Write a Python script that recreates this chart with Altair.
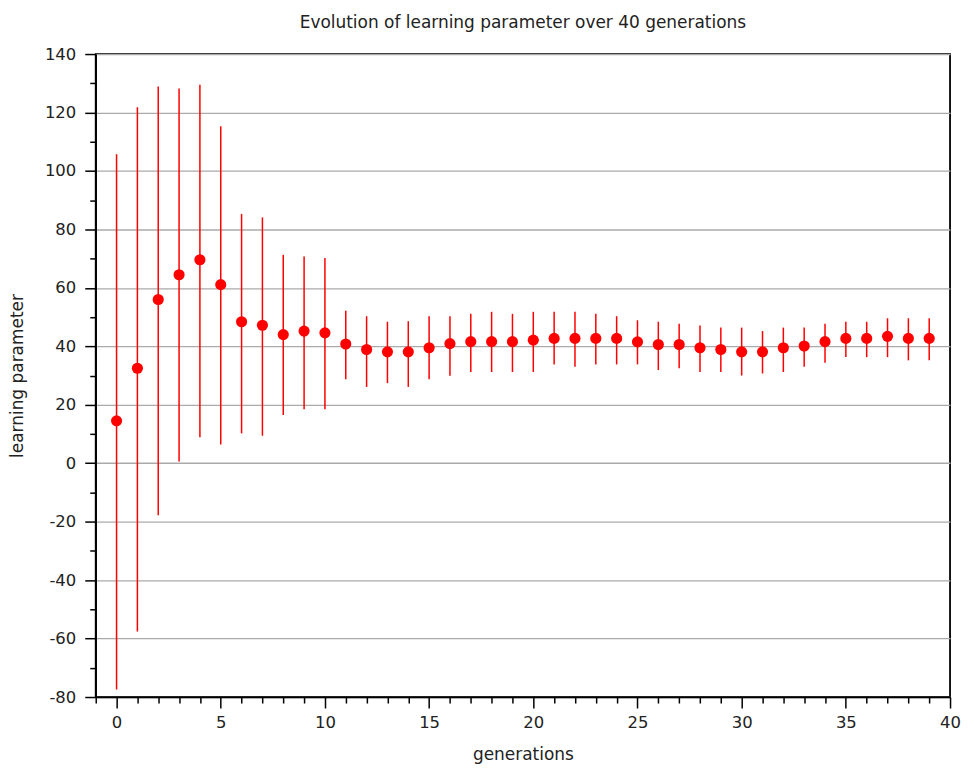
import altair as alt
import pandas as pd

generations = list(range(40))
mean_value = [14.5, 32.5, 56.0, 64.5, 69.6, 61.1, 48.4, 47.2, 44.0, 45.2,
              44.6, 40.8, 38.9, 38.1, 38.1, 39.5, 40.9, 41.6, 41.6, 41.6,
              42.1, 42.7, 42.7, 42.7, 42.7, 41.5, 40.6, 40.6, 39.5, 38.9,
              38.1, 38.1, 39.5, 40.1, 41.6, 42.7, 42.7, 43.4, 42.7, 42.7]
upper_value = [105.7, 121.8, 128.9, 128.2, 129.5, 115.3, 85.3, 84.1, 71.3, 70.7,
               70.2, 52.2, 50.3, 48.4, 48.6, 50.3, 50.3, 51.1, 51.8, 51.1,
               51.8, 51.8, 51.8, 51.1, 50.3, 48.9, 48.4, 47.7, 47.1, 46.4,
               46.4, 45.2, 46.4, 46.4, 47.7, 48.4, 48.4, 49.6, 49.6, 49.6]
lower_value = [-77.4, -57.6, -17.8, 0.6, 8.9, 6.4, 10.2, 9.4, 16.5, 18.5,
               18.5, 28.7, 26.1, 27.4, 26.1, 28.7, 29.9, 31.2, 31.2, 31.2,
               31.2, 33.8, 33.0, 33.8, 33.8, 33.8, 31.9, 32.5, 31.2, 31.2,
               30.0, 30.7, 31.2, 33.0, 34.4, 36.3, 36.3, 36.3, 35.2, 35.2]

x_major_ticks = [0, 5, 10, 15, 20, 25, 30, 35, 40]
x_minor_ticks = [v for v in range(-1, 41) if v % 5 != 0]
y_major_ticks = [-80, -60, -40, -20, 0, 20, 40, 60, 80, 100, 120, 140]
y_minor_ticks = [-70, -50, -30, -10, 10, 30, 50, 70, 90, 110, 130]

df = pd.DataFrame({"gen": generations, "mean": mean_value,
                   "upper": upper_value, "lower": lower_value})

FONT = "DejaVu Sans"
x_scale = alt.Scale(domain=[-1, 40], nice=False, zero=False)
y_scale = alt.Scale(domain=[-80, 140], nice=False, zero=False)

common_axis = dict(labelFont=FONT, labelFontSize=16.5, labelColor="#222",
                   tickColor="black", tickWidth=1.5, domainColor="black",
                   domainWidth=1.5, titleFont=FONT, titleFontSize=17,
                   titleFontWeight="normal", titleColor="#222",
                   labelExpr="datum.value + ''")

bars = alt.Chart(df).mark_rule(color="#ff0000", strokeWidth=1.5).encode(
    x=alt.X("gen:Q", scale=x_scale,
            axis=alt.Axis(values=x_major_ticks, orient="bottom", tickSize=11,
                          labelPadding=7, grid=False, title="generations",
                          titleY=63, titleBaseline="alphabetic",
                          labelFlush=False, **common_axis)),
    y=alt.Y("lower:Q", scale=y_scale,
            axis=alt.Axis(values=y_major_ticks, orient="left", tickSize=11,
                          labelPadding=9, grid=True, gridColor="#aaaaaa",
                          gridWidth=1.3, title="learning parameter",
                          titleX=-73, titleBaseline="alphabetic",
                          labelFlush=False, **common_axis)),
    y2="upper:Q",
)

points = alt.Chart(df).mark_circle(color="#ff0000", size=125, opacity=1).encode(
    x=alt.X("gen:Q", scale=x_scale,
            axis=alt.Axis(values=x_minor_ticks, orient="bottom", tickSize=6,
                          tickWidth=1.5, tickColor="black", labels=False,
                          domain=False, grid=False, title=None)),
    y=alt.Y("mean:Q", scale=y_scale,
            axis=alt.Axis(values=y_minor_ticks, orient="left", tickSize=6,
                          tickWidth=1.5, tickColor="black", labels=False,
                          domain=False, grid=False, title=None)),
)

chart = alt.layer(bars, points).resolve_scale(
    x="independent", y="independent"
).properties(
    width=857,
    height=645,
    autosize=alt.AutoSizeParams(type="none"),
    padding={"left": 88, "top": 45, "right": 12, "bottom": 66},
    title=alt.TitleParams("Evolution of learning parameter over 40 generations",
                          font=FONT, fontSize=17, fontWeight="normal",
                          color="#222", anchor="middle", offset=14),
).configure_view(stroke="black", strokeWidth=1.8)

chart.save("out.html", embed_options={"renderer": "svg", "actions": False})
